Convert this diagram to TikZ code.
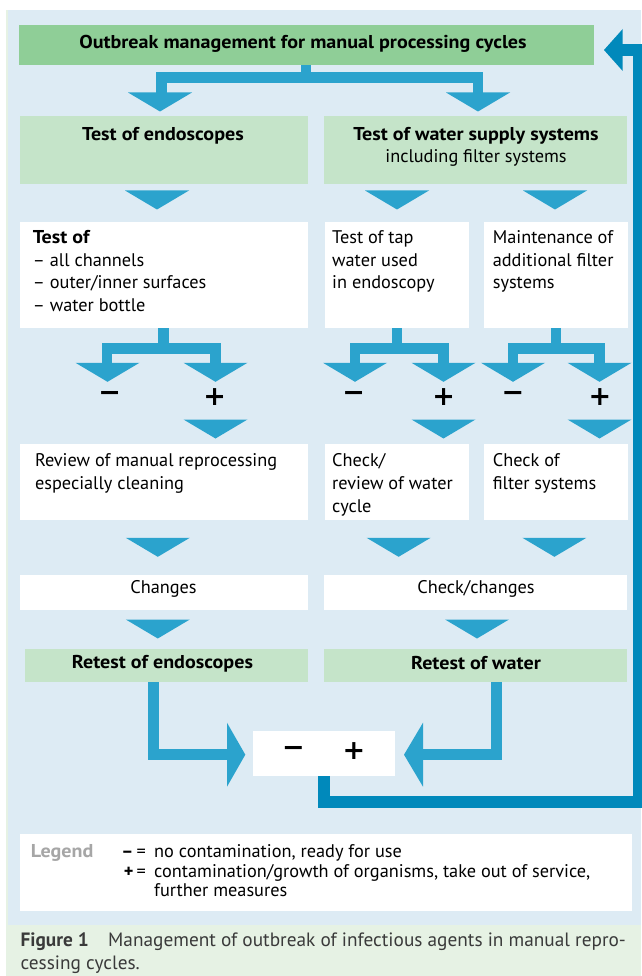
\documentclass[tikz,border=0pt]{standalone}
\usepackage{fontspec}
\setmainfont{PT Sans}
\newfontfamily\headfont{PT Sans}[FakeStretch=1.08]
\newfontfamily\signfont{DejaVu Sans}
\definecolor{bgblue}{HTML}{DDEBF4}
\definecolor{greenA}{HTML}{8FCE97}
\definecolor{greenB}{HTML}{C5E4C9}
\definecolor{arrowblue}{HTML}{2BA3CD}
\definecolor{darkblue}{HTML}{0089BB}
\definecolor{capgreen}{HTML}{E6F2E4}
\definecolor{legendgray}{HTML}{A6A6A6}
\definecolor{captext}{HTML}{3A3A3A}
\newcommand\myBody{\fontsize{18.3}{22.7}\selectfont}
\newcommand\myCap{\fontsize{19.3}{23}\selectfont}
\newcommand\myHead{\headfont\bfseries\fontsize{18.6}{22.7}\selectfont}
\tikzset{
  box/.style={anchor=north west, inner sep=0pt, outer sep=0pt},
  txt/.style={anchor=north west, inner sep=0pt, align=left, font=\myBody},
  ctxt/.style={inner sep=0pt, font=\myBody},
  htxt/.style={inner sep=0pt, font=\myHead},
  sign/.style={inner sep=0pt, font=\signfont\bfseries\fontsize{27}{27}\selectfont},
  conn/.style={draw=arrowblue, line width=10.5pt, line join=miter},
  retline/.style={draw=darkblue, line width=11.5pt, line join=miter},
  dhead/.pic={\fill[arrowblue] (-32,-0.5) -- (32,-0.5) -- (0,18.5) -- cycle;}
}
\begin{document}
\begin{tikzpicture}[x=1pt,y=-1pt]
\useasboundingbox (0,0) rectangle (641,976);
\fill[white] (0,0) rectangle (641,976);
\fill[bgblue] (6,10) rectangle (641,925);
\fill[capgreen] (6,925) rectangle (641,976);
\fill[capgreen] (6,10) rectangle (7.5,925);

% boxes
\node[box, fill=greenA, minimum width=575pt, minimum height=40pt] (top) at (18.5,25) {};
\node[box, fill=greenB, minimum width=288pt, minimum height=68pt] (endo) at (19.5,116) {};
\node[box, fill=greenB, minimum width=303pt, minimum height=68pt] (water) at (324,116) {};
\node[box, fill=white, minimum width=288pt, minimum height=106pt] (testof) at (19.5,222) {};
\node[box, fill=white, minimum width=144pt, minimum height=106pt] (tap) at (325,222) {};
\node[box, fill=white, minimum width=144pt, minimum height=106pt] (maint) at (484,222) {};
\node[box, fill=white, minimum width=288pt, minimum height=76pt] (review) at (19.5,444) {};
\node[box, fill=white, minimum width=144pt, minimum height=76pt] (check) at (325,444) {};
\node[box, fill=white, minimum width=144pt, minimum height=76pt] (checkof) at (484,444) {};
\node[box, fill=white, minimum width=288pt, minimum height=34.5pt] (changes) at (19.5,575) {};
\node[box, fill=white, minimum width=303pt, minimum height=34.5pt] (checkch) at (324,575) {};
\node[box, fill=greenB, minimum width=282.5pt, minimum height=33.5pt] (retendo) at (25,648.5) {};
\node[box, fill=greenB, minimum width=303pt, minimum height=33.5pt] (retwater) at (324,648.5) {};
\node[box, fill=white, minimum width=142pt, minimum height=45pt] (result) at (253,731) {};
\node[box, fill=white, minimum width=612pt, minimum height=77pt] (legend) at (20,834) {};

% texts
\node[htxt] (toptxt) at (303,44) {Outbreak management for manual processing cycles};
\node[htxt] (endotxt) at (163,136) {Test of endoscopes};
\node[htxt] (watertxt) at (476,136) {Test of water supply systems};
\node[ctxt] (watersub) at (476,158) {including filter systems};
\node[txt] (testoftxt) at (32.7,227.3) {\strut{\myHead Test of}\\– all channels\\– outer/inner surfaces\\– water bottle};
\node[txt] (taptxt) at (332,227.3) {\strut Test of tap\\water used\\in endoscopy};
\node[txt] (mainttxt) at (492.6,227.3) {\strut Maintenance of\\additional filter\\systems};
\node[txt] (reviewtxt) at (34.8,450.6) {\strut Review of manual reprocessing\\especially cleaning};
\node[txt] (checktxt) at (332,450.6) {\strut Check/\\review of water\\cycle};
\node[txt] (checkoftxt) at (492.6,450.6) {\strut Check of\\filter systems};
\node[ctxt] (changestxt) at (163.5,589.3) {Changes};
\node[ctxt] (checkchtxt) at (476,589.3) {Check/changes};
\node[htxt] (retendotxt) at (162.5,663.3) {Retest of endoscopes};
\node[htxt] (retwatertxt) at (476,663.3) {Retest of water};

% top branch
\draw[conn] (top.south) -- ++(0,13);
\draw[conn] (161.5,94) -- (161.5,77.5) -- (478,77.5) -- (478,94);
\pic at (160,93) {dhead};
\pic at (478,93) {dhead};

% heads below second row
\pic at (157,191) {dhead};
\pic at (397,191) {dhead};
\pic at (555,191) {dhead};

% splits
\draw[conn] (testof.south) -- ++(0,20.8);
\draw[conn] (107,364) -- (107,348.3) -- (215.5,348.3) -- (215.5,364);
\pic at (107.5,363.3) {dhead};
\pic at (215.5,363.3) {dhead};
\draw[conn] (tap.south) -- ++(0,20.8);
\draw[conn] (355,364) -- (355,348.3) -- (443.5,348.3) -- (443.5,364);
\pic at (355,363.3) {dhead};
\pic at (443.5,363.3) {dhead};
\draw[conn] (maint.south) -- ++(0,20.8);
\draw[conn] (513,364) -- (513,348.3) -- (599.5,348.3) -- (599.5,364);
\pic at (513,363.3) {dhead};
\pic at (599.5,363.3) {dhead};

% signs
\node[sign] (m1) at (109.6,396.7) {−};
\node[sign] (p1) at (214.6,396.7) {+};
\node[sign] (m2) at (353.6,396.7) {−};
\node[sign] (p2) at (443.6,396.7) {+};
\node[sign] (m3) at (513,396.7) {−};
\node[sign] (p3) at (600,396.7) {+};

\pic at (215.5,420) {dhead};
\pic at (443.5,420) {dhead};
\pic at (599.5,420) {dhead};

\pic at (157.8,538.3) {dhead};
\pic at (398.6,538.3) {dhead};
\pic at (554.4,538.3) {dhead};

\pic at (157.8,620) {dhead};
\pic at (477,620) {dhead};

% bottom merge
\draw[conn] (153.7,682) -- (153.7,754.7) -- (228,754.7);
\fill[arrowblue] (227,722.7) -- (245.3,754.7) -- (227,786.7) -- cycle;
\draw[conn] (496.3,682) -- (496.3,754.7) -- (422,754.7);
\fill[arrowblue] (423,722.7) -- (404,754.7) -- (423,786.7) -- cycle;

\node[sign] (rm) at (293.5,751) {−};
\node[sign] (rp) at (354,751) {+};

% return loop
\draw[retline] (result.south) -- (324,801.8) -- (638.8,801.8) -- (638.8,49.8) -- (621,49.8);
\fill[darkblue] (622.7,29) -- (604,50) -- (622.7,71) -- cycle;

% legend
\node[anchor=base west, inner sep=0pt, font=\myHead, text=legendgray] (legtitle) at (30.7,857.5) {Legend};
\node[anchor=base east, inner sep=0pt, font=\myBody] (l1s) at (146,857) {\textbf{–}\,=};
\node[anchor=base west, inner sep=0pt, font=\myBody] (l1t) at (154,857) {no contamination, ready for use};
\node[anchor=base east, inner sep=0pt, font=\myBody] (l2s) at (146,877) {\textbf{+}\,=};
\node[anchor=base west, inner sep=0pt, font=\myBody] (l2t) at (154,877) {contamination/growth of organisms, take out of service,};
\node[anchor=base west, inner sep=0pt, font=\myBody] (l3t) at (154,896.5) {further measures};

% caption
\node[anchor=base west, inner sep=0pt, font=\myCap\bfseries, text=captext] (figlab) at (20.4,946.5) {Figure 1};
\node[anchor=base west, inner sep=0pt, font=\myCap, text=captext] (cap1) at (108,946.5) {Management of outbreak of infectious agents in manual repro-};
\node[anchor=base west, inner sep=0pt, font=\myCap, text=captext] (cap2) at (20.4,969.5) {cessing cycles.};
\end{tikzpicture}
\end{document}
